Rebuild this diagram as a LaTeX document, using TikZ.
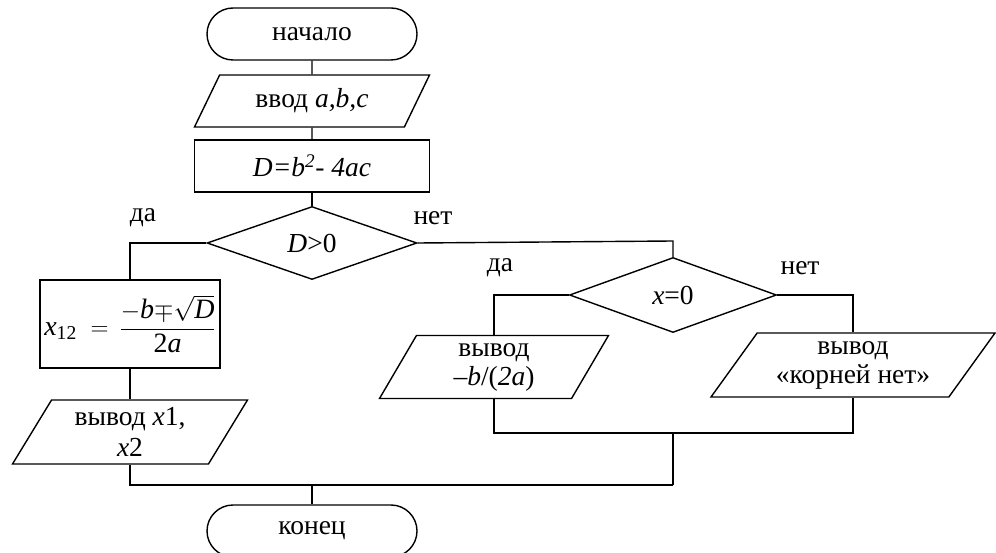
\documentclass[tikz,border=0pt]{standalone}
\usepackage{amsmath}
\usepackage{fontspec}
\setmainfont{Liberation Serif}
\usetikzlibrary{shapes.geometric,shapes.misc,positioning}
\tikzset{
 term/.style={draw,rounded rectangle,minimum width=210pt,minimum height=52pt,inner sep=0pt},
 iobox/.style={draw,trapezium,trapezium stretches body,inner sep=2pt,align=center},
 procbox/.style={draw,rectangle,inner sep=0pt},
 decbox/.style={draw,diamond,inner sep=0pt},
 lbl/.style={inner sep=0pt}
}

\begin{document}
\begin{tikzpicture}[x=1pt,y=-1pt,line width=1.4pt,font=\fontsize{27.5}{29}\selectfont]
 \useasboundingbox (0,0) rectangle (996,553);

 % main column
 \node[term] (start) at (312,34) {начало};
 \node[iobox,trapezium left angle=48.5,trapezium right angle=131.5,minimum width=235pt,minimum height=52pt] (inp) at (312,101) {ввод \textit{a,b,c}};
 \node[procbox,minimum width=235pt,minimum height=52pt] (calc) at (312,166) {\textit{D=b\textsuperscript{2}- 4ac}};
 \node[decbox,minimum width=210pt,minimum height=73pt] (d1) at (312,243) {\textit{D}>0};

 % left branch
 \node[procbox,minimum width=180pt,minimum height=88pt,font=\fontsize{28}{30}\selectfont] (roots) at (130,324) {$\textit{x}_{\text{12}}\;=\,\dfrac{-\textit{b}{\mp}\sqrt{\textit{D}}}{\text{2}\textit{a}}$};
 \node[iobox,trapezium left angle=53.7,trapezium right angle=126.3,minimum width=235pt,minimum height=64pt] (out1) at (130,432) {вывод \textit{x}1,\\[2pt] \textit{x}2};

 % right branch
 \node[decbox,minimum width=207pt,minimum height=75pt] (d2) at (673,295) {\textit{x}=0};
 \node[iobox,trapezium left angle=54.5,trapezium right angle=125.5,minimum width=229pt,minimum height=63pt] (out2) at (494,367) {вывод\\ \textit{–b}/(\textit{2a})};
 \node[iobox,trapezium left angle=48.3,trapezium right angle=131.7,minimum width=284pt,minimum height=64pt] (out3) at (853,365) {вывод\\ «корней нет»};

 \node[term,minimum height=52pt] (stop) at (312,531) {конец};

 % labels
 \node[lbl] (yes1) at (143,218) {да};
 \node[lbl] (no1) at (433,218) {нет};
 \node[lbl] (yes2) at (500,268) {да};
 \node[lbl] (no2) at (800,268) {нет};

 % joints
 \coordinate (bend) at (673,241);
 \coordinate (mergeR) at (673,433);
 \coordinate (mergeL) at (673,485);

 % connectors
 \draw (start) -- (inp);
 \draw (inp) -- (calc);
 \draw (calc) -- (d1);
 \draw (d1.west) -| (roots);
 \draw (roots) -- (out1);
 \draw (d1.east) -- (bend) -- (d2);
 \draw (d2.west) -| (out2);
 \draw (d2.east) -| (out3);
 \draw (out2) |- (mergeR) -| (out3);
 \draw (mergeR) -- (mergeL);
 \draw (out1) |- (mergeL);
 \draw (stop) -- (stop |- mergeL);
\end{tikzpicture}
\end{document}
